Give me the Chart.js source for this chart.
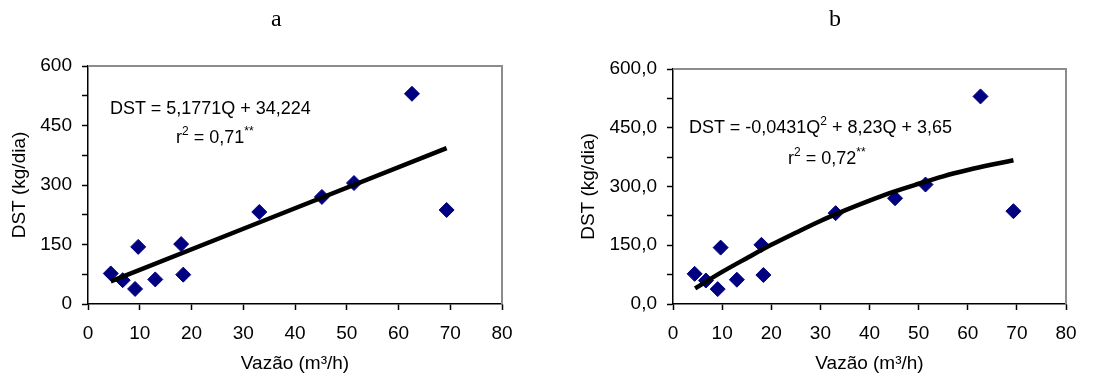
<!DOCTYPE html>
<html lang="pt">
<head>
  <meta charset="UTF-8" />
  <title>DST x Vazão</title>
  <script src="https://cdn.jsdelivr.net/npm/chart.js"></script>
  <style>
    body { margin: 0; background: #fff; width: 1116px; height: 376px; position: relative; overflow: hidden; }
    .panel { position: absolute; top: 0; width: 558px; height: 376px; }
    .panel canvas { display: block; }
    .label { position: absolute; font-family: "Liberation Serif", "Times New Roman", serif; font-size: 24px; color: #000; }
    .eq { position: absolute; font-family: "Liberation Sans", Arial, sans-serif; font-size: 18px; color: #000; white-space: nowrap; line-height: 1; }
    .eq sup { font-size: 12px; vertical-align: 8px; line-height: 0; }
  </style>
</head>
<body>
  <div class="panel" style="left:0"><canvas id="chartA" width="558" height="376"></canvas></div>
  <div class="panel" style="left:558px"><canvas id="chartB" width="558" height="376"></canvas></div>

  <div class="label" style="left:271px; top:5px">a</div>
  <div class="label" style="left:829px; top:5px">b</div>

  <!-- equations (baseline ~ top + 14) -->
  <div class="eq" style="left:110px; top:99px">DST = 5,1771Q + 34,224</div>
  <div class="eq" style="left:176px; top:128px">r<sup>2</sup> = 0,71<sup>**</sup></div>
  <div class="eq" style="left:689px; top:118px">DST = -0,0431Q<sup>2</sup> + 8,23Q + 3,65</div>
  <div class="eq" style="left:788px; top:149px">r<sup>2</sup> = 0,72<sup>**</sup></div>

  <script>
    // observed points (same in both panels)
    const vazao = [4.4, 6.7, 9.1, 9.7, 13.0, 18.0, 18.4, 33.1, 45.2, 51.4, 62.6, 69.3];
    const dst = [77, 60, 38, 144, 62, 151, 74, 232, 270, 305, 530, 237];

    // trend line a (linear)
    const linX = [4.4, 69.3];
    const linY = [57, 393];

    // trend line b (quadratic)
    const quadX = [4.5, 10, 15, 20, 25, 30, 35, 40, 45, 50, 55, 60, 65, 69.3];
    const quadY = [40, 82, 117, 151, 182, 212, 239, 264, 287, 307, 326, 342, 356, 367];

    const xTicks = { min: 0, max: 80, step: 10 };
    const yTicks = { min: 0, max: 600, step: 75, labelEvery: 150 };

    const FONT = { family: '"Liberation Sans", Arial, sans-serif', size: 19 };

    function toPoints(xs, ys) {
      return xs.map((x, i) => ({ x: x, y: ys[i] }));
    }

    // gray top/right frame of the plot area
    const frame = {
      id: 'frame',
      beforeDatasetsDraw(chart) {
        const a = chart.chartArea;
        const ctx = chart.ctx;
        ctx.save();
        ctx.strokeStyle = '#8c8c8c';
        ctx.lineWidth = 2;
        ctx.beginPath();
        ctx.moveTo(a.left, a.top);
        ctx.lineTo(a.right, a.top);
        ctx.lineTo(a.right, a.bottom);
        ctx.stroke();
        ctx.restore();
      }
    };

    function makeChart(id, fitX, fitY, cfg) {
      const ctx = document.getElementById(id).getContext('2d');
      return new Chart(ctx, {
        type: 'scatter',
        data: {
          datasets: [
            {
              label: 'ajuste',
              data: toPoints(fitX, fitY),
              showLine: true,
              borderColor: '#000',
              borderWidth: 4.5,
              pointRadius: 0,
              tension: 0.4,
              cubicInterpolationMode: 'monotone',
              fill: false
            },
            {
              label: 'DST',
              data: toPoints(vazao, dst),
              pointStyle: 'rectRot',
              pointRadius: 7.5,
              backgroundColor: '#000080',
              borderColor: '#000080',
              borderWidth: 1
            }
          ]
        },
        options: {
          responsive: false,
          animation: false,
          layout: { padding: { left: 0, top: cfg.top, right: cfg.right, bottom: 0 } },
          plugins: { legend: { display: false }, tooltip: { enabled: false } },
          scales: {
            x: {
              type: 'linear',
              min: xTicks.min,
              max: xTicks.max,
              afterFit(s) { s.height = 376 - 304; },
              border: { display: true, color: '#000', width: 1.5 },
              grid: { drawOnChartArea: false, drawTicks: true, tickLength: 6, tickColor: '#000', tickWidth: 1.5 },
              ticks: { stepSize: xTicks.step, color: '#000', font: FONT, padding: 12, maxRotation: 0 },
              title: {
                display: true,
                text: 'Vazão (m³/h)',
                color: '#000',
                font: FONT,
                padding: { top: 0, bottom: 1 }
              }
            },
            y: {
              type: 'linear',
              min: yTicks.min,
              max: yTicks.max,
              afterFit(s) { s.width = cfg.yWidth; },
              border: { display: true, color: '#000', width: 1.5 },
              grid: { drawOnChartArea: false, drawTicks: true, tickLength: 6, tickColor: '#000', tickWidth: 1.5 },
              ticks: {
                stepSize: yTicks.step,
                color: '#000',
                font: FONT,
                padding: 10,
                callback: v => (v % yTicks.labelEvery === 0 ? cfg.fmt(v) : '')
              },
              title: {
                display: true,
                text: 'DST (kg/dia)',
                color: '#000',
                font: FONT,
                padding: { top: cfg.titlePad, bottom: 0 }
              }
            }
          }
        },
        plugins: [frame]
      });
    }

    makeChart('chartA', linX, linY, {
      top: 66, right: 56, yWidth: 88, titlePad: 8,
      fmt: v => String(v)
    });

    makeChart('chartB', quadX, quadY, {
      top: 69, right: 50, yWidth: 115, titlePad: 19,
      fmt: v => v.toFixed(1).replace('.', ',')
    });
  </script>
</body>
</html>
